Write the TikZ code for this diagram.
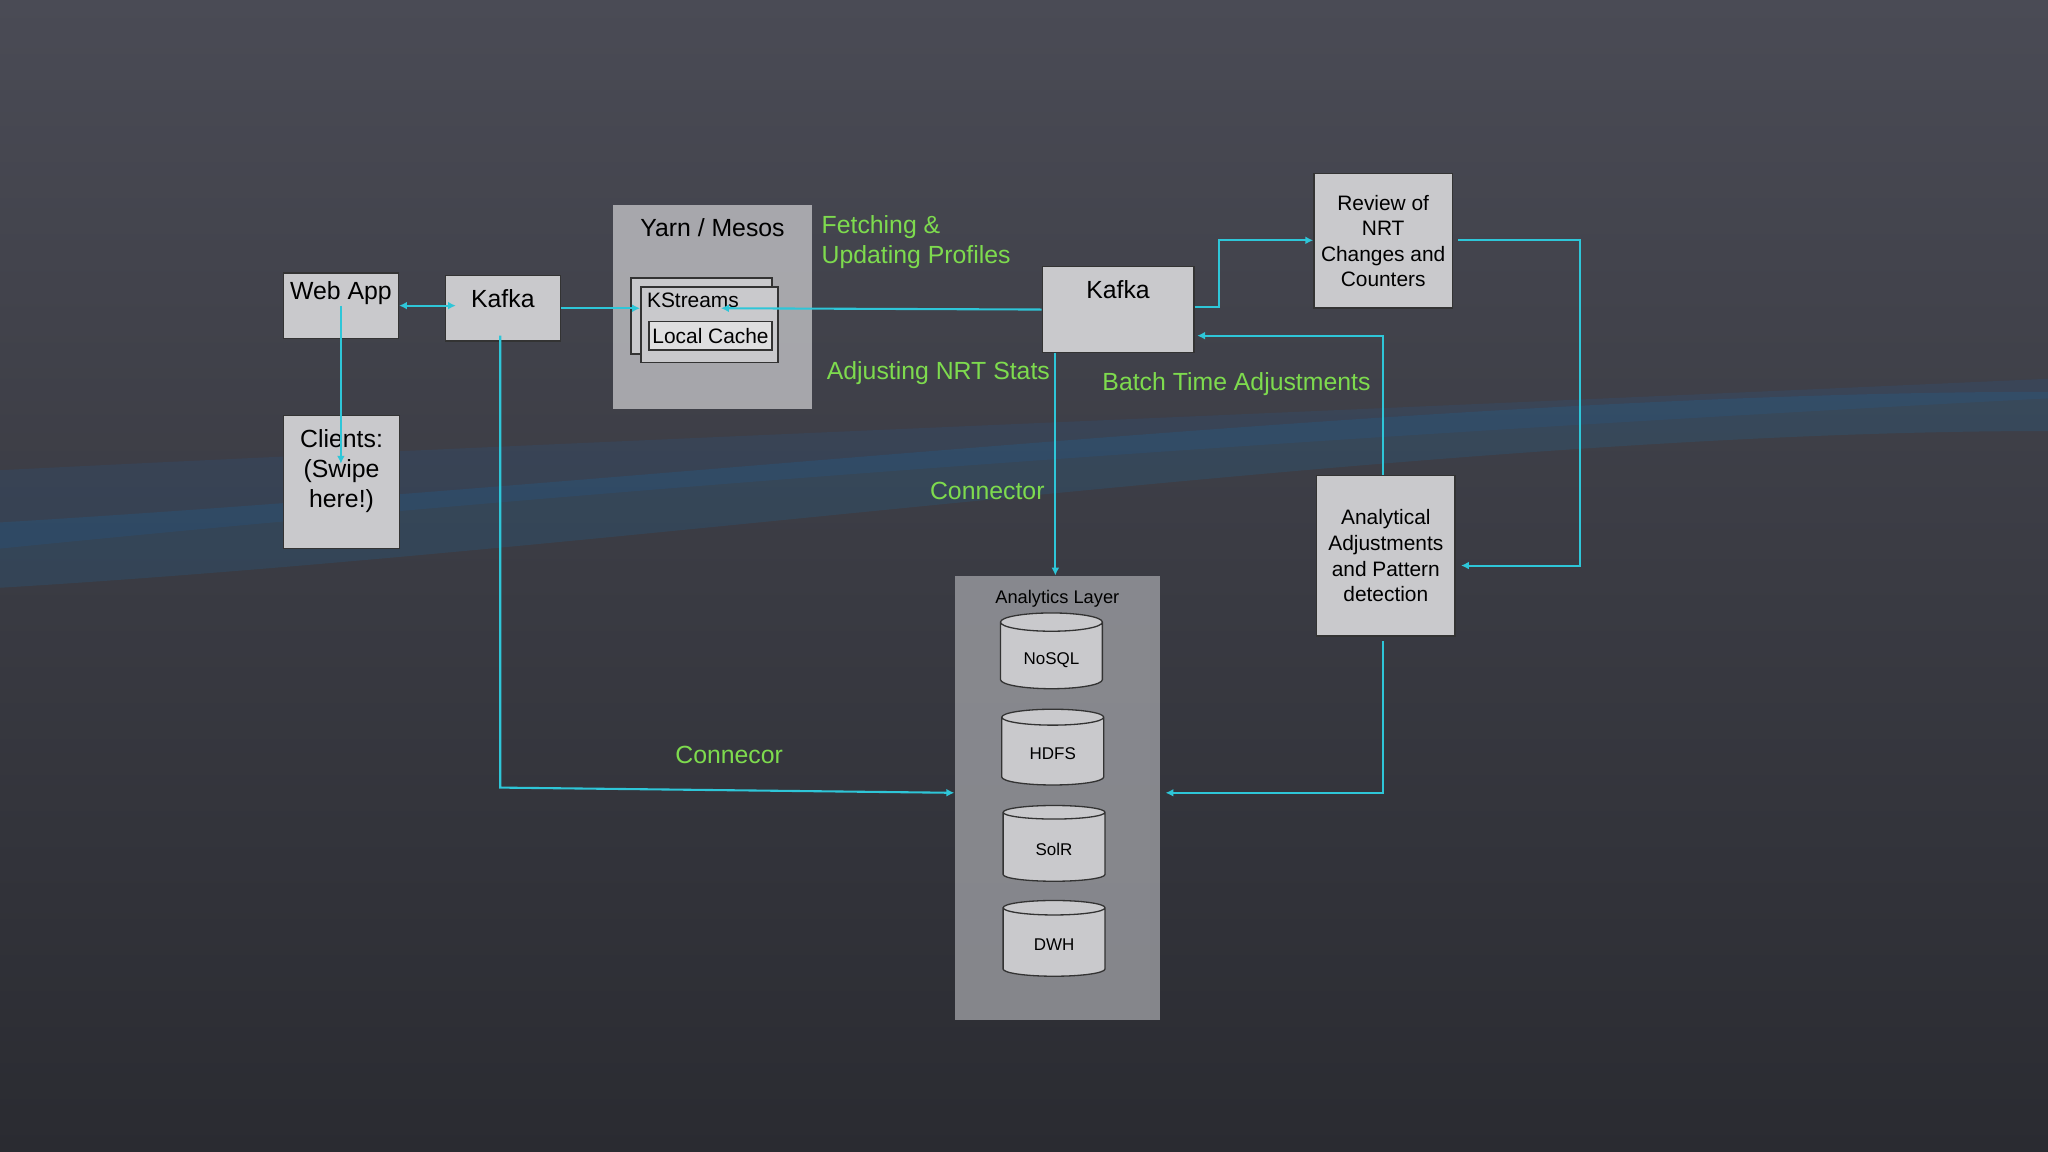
\documentclass[tikz,border=0pt]{standalone}
\usepackage{fontspec}
\setmainfont{Liberation Sans}
\usetikzlibrary{shapes.geometric,arrows.meta}
\definecolor{bgtop}{HTML}{4A4B55}
\definecolor{bgbot}{HTML}{2A2B31}
\definecolor{cy}{HTML}{2EC6D8}
\definecolor{gr}{HTML}{7EDB4E}
\definecolor{boxg}{HTML}{C9C9CC}
\begin{document}
\begin{tikzpicture}[x=0.5pt,y=-0.5pt,
  box/.style={draw=black!80,fill=boxg,line width=0.6pt,inner sep=0pt},
  lbl/.style={text=gr,font=\fontsize{9.5}{11.5}\selectfont,anchor=west,align=left},
  con/.style={draw=cy,line width=0.8pt,-{Latex[length=3pt,width=3pt]}},
  cyl/.style={cylinder,shape border rotate=90,draw=black!80,fill=boxg,minimum width=39pt,minimum height=29pt,aspect=0.25,font=\fontsize{6.5}{8}\selectfont,text depth=0pt,line width=0.5pt}]
\useasboundingbox (0,0) rectangle (1568,882);
\shade[top color=bgtop,bottom color=bgbot] (0,0) rectangle (1568,882);
\fill[blue!40!cyan,opacity=0.10] (0,400) .. controls (500,370) and (1100,300) .. (1568,300) -- (1568,330) .. controls (1100,330) and (500,420) .. (0,450) -- cycle;
\fill[blue!50!cyan,opacity=0.08] (0,360) .. controls (400,340) and (900,320) .. (1568,290) -- (1568,305) .. controls (900,340) and (400,380) .. (0,420) -- cycle;
% boxes
\node[box,minimum width=44pt,minimum height=25pt] (web) at (261,234) {};
\node[font=\fontsize{9.5}{11}\selectfont,anchor=north] at (web.north) {Web App};
\node[box,minimum width=44pt,minimum height=25pt] (k1) at (385,236) {};
\node[font=\fontsize{9.5}{11}\selectfont,anchor=north] at ([yshift=-2pt]k1.north) {Kafka};
\node[box,minimum width=44.5pt,minimum height=51pt] (cl) at (261.5,369) {};
\node[font=\fontsize{9.5}{11.5}\selectfont,align=center,anchor=north] at ([yshift=-2pt]cl.north) {Clients:\\(Swipe\\here!)};
\node[fill=white!70!bgtop,opacity=0.75,minimum width=76.5pt,minimum height=78pt,inner sep=0pt] (yarn) at (545.5,235) {};
\node[font=\fontsize{9.5}{11}\selectfont,anchor=north] at ([yshift=-2pt]yarn.north) {Yarn / Mesos};
\node[box,minimum width=54pt,minimum height=29pt] (ksb) at (537,242) {};
\node[box,minimum width=52.5pt,minimum height=29pt,anchor=north west] (ks) at (490,219) {};
\node[font=\fontsize{8}{9}\selectfont,anchor=north west,inner sep=1pt] at ([xshift=1.5pt,yshift=-1.5pt]ks.north west) {KStreams};
\node[box,fill=boxg!60!white,minimum width=47pt,minimum height=11pt,font=\fontsize{8}{9}\selectfont] (lc) at (544,257) {Local Cache};
\node[box,minimum width=58pt,minimum height=33pt] (k2) at (856,237) {};
\node[font=\fontsize{9.5}{11}\selectfont,anchor=north] at ([yshift=-2pt]k2.north) {Kafka};
\node[box,minimum width=53pt,minimum height=51.5pt,font=\fontsize{8}{9.8}\selectfont,align=center] (rev) at (1059,184.5) {Review of\\NRT\\Changes and\\Counters};
\node[box,minimum width=53pt,minimum height=61.5pt,font=\fontsize{8}{9.8}\selectfont,align=center] (an) at (1061,425.5) {Analytical\\Adjustments\\and Pattern\\detection};
\node[fill=white!45!bgtop,opacity=0.8,minimum width=78.5pt,minimum height=170pt,inner sep=0pt] (al) at (809.5,611) {};
\node[font=\fontsize{7}{8}\selectfont,anchor=north] at ([yshift=-2pt]al.north) {Analytics Layer};
\node[cyl] (c1) at (805,504) {NoSQL};
\node[cyl] (c2) at (806,577) {HDFS};
\node[cyl] (c3) at (807,650) {SolR};
\node[cyl] (c4) at (807,723) {DWH};
% labels
\node[lbl] at (622,185) {Fetching \&\\Updating Profiles};
\node[lbl] at (626,286) {Adjusting NRT Stats};
\node[lbl] at (837,294) {Batch Time Adjustments};
\node[lbl] at (705,376) {Connector};
\node[lbl] at (510,578) {Connecor};
% connectors
\coordinate (kp) at (552,236);
\draw[con,{Latex[length=3pt,width=3pt]}-{Latex[length=3pt,width=3pt]}] (web.east |- 0,234) -- (349,234);
\draw[con] (261,234) -- (261,355);
\draw[con] (k1.east |- 0,236) -- (ks.west |- 0,236);
\draw[con] (k2.west |- 0,237) -- (kp);
\draw[con] (k2.east |- 0,235) -- (933,235) -- (933,184) -- (rev.west |- 0,184);
\draw[con] ([xshift=2pt]rev.east |- 0,184) -- (1210,184) -- (1210,433) -- ([xshift=2pt]an.east |- 0,433);
\draw[con] (an.north -| 1059,0) -- (1059,257) -- ([xshift=1pt]k2.east |- 0,257);
\draw[con] (808,270) -- (al.north -| 808,0);
\draw[con] (383,257) -- (383,603) -- (al.west |- 0,607);
\draw[con] (1059,491) -- (1059,607) -- ([xshift=2pt]al.east |- 0,607);
\end{tikzpicture}
\end{document}
